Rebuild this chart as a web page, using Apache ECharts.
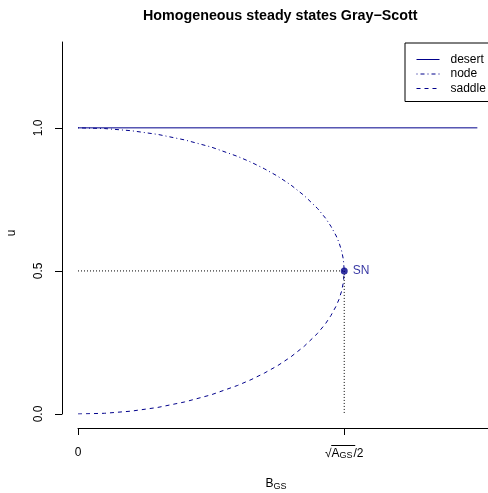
<!DOCTYPE html>
<html>
<head>
<meta charset="utf-8">
<script src="https://cdn.jsdelivr.net/npm/echarts@6/dist/echarts.min.js"></script>
<style>
  html, body { margin: 0; padding: 0; background: #fff; }
  #chart-container { width: 488px; height: 493px; }
</style>
</head>
<body>
<div id="chart-container"></div>
<script>
var dom = document.getElementById('chart-container');
var myChart = echarts.init(dom, null, { renderer: 'canvas' });

// B_GS in units of sqrt(A_GS)/2
const desert = [[0, 1], [1.5, 1]];
const nodeBranch = [
  [0, 1.0], [0.1, 0.9975], [0.2, 0.990], [0.3, 0.977], [0.4, 0.958],
  [0.5, 0.933], [0.6, 0.900], [0.65, 0.880], [0.7, 0.857], [0.75, 0.831],
  [0.8, 0.800], [0.85, 0.763], [0.9, 0.718], [0.93, 0.684], [0.95, 0.656],
  [0.97, 0.622], [0.98, 0.600], [0.99, 0.571], [0.997, 0.539], [1.0, 0.5]
];
const saddleBranch = [
  [0, 0.0], [0.1, 0.0025], [0.2, 0.010], [0.3, 0.023], [0.4, 0.042],
  [0.5, 0.067], [0.6, 0.100], [0.65, 0.120], [0.7, 0.143], [0.75, 0.169],
  [0.8, 0.200], [0.85, 0.237], [0.9, 0.282], [0.93, 0.316], [0.95, 0.344],
  [0.97, 0.378], [0.98, 0.400], [0.99, 0.429], [0.997, 0.461], [1.0, 0.5]
];
const snPoint = [[1, 0.5]];
const xTicks = [0, 1];
const yTicks = [0, 0.5, 1];

const BLUE = '#00008B';
const FONT = 'Liberation Sans, Arial, sans-serif';

var option = {
  animation: false,
  title: {
    text: 'Homogeneous steady states Gray\u2212Scott',
    left: 138,
    top: 4,
    textStyle: { fontFamily: FONT, fontSize: 14.3, fontWeight: 'bold', color: '#000' }
  },
  legend: {
    data: ['desert', 'node', 'saddle'],
    orient: 'vertical',
    left: 405,
    top: 43,
    padding: [10.5, 30, 7, 11],
    itemWidth: 23,
    itemHeight: 12,
    itemGap: 2.5,
    borderColor: '#000',
    borderWidth: 1,
    borderRadius: 0,
    itemStyle: { opacity: 0 },
    lineStyle: { width: 1, color: BLUE },
    textStyle: { fontFamily: FONT, fontSize: 12, color: '#000', padding: [0, 0, 0, 6] }
  },
  grid: { left: 78, right: 0, top: 42, bottom: 79, outerBoundsMode: 'none' },
  xAxis: {
    type: 'value',
    min: 0,
    max: 1.54,
    offset: 14,
    name: '{b|B}{s|GS}',
    nameLocation: 'middle',
    nameGap: 48,
    nameTextStyle: {
      padding: [0, 14, 0, 0],
      rich: {
        b: { fontFamily: FONT, fontSize: 12, color: '#000' },
        s: { fontFamily: FONT, fontSize: 9, color: '#000', verticalAlign: 'bottom', padding: [6, 0, 0, 0] }
      }
    },
    axisLine: { onZero: false, lineStyle: { color: '#000', width: 1 } },
    axisTick: { show: true, customValues: xTicks, length: 7, lineStyle: { color: '#000' } },
    axisLabel: {
      customValues: xTicks,
      margin: 19,
      formatter: function (v) {
        return v === 0 ? '{t|0}' : '{r|\u221A}{a|A}{s|GS}{t|/2}';
      },
      rich: {
        t: { fontFamily: FONT, fontSize: 12, color: '#000' },
        r: { fontFamily: FONT, fontSize: 12, color: '#000' },
        a: { fontFamily: FONT, fontSize: 12, color: '#000' },
        s: { fontFamily: FONT, fontSize: 9, color: '#000', padding: [4, 1, 0, 0] }
      }
    },
    splitLine: { show: false }
  },
  yAxis: {
    type: 'value',
    min: 0,
    max: 1.3,
    offset: 16,
    name: 'u',
    nameLocation: 'middle',
    nameRotate: 90,
    nameGap: 44,
    nameTextStyle: { fontFamily: FONT, fontSize: 12, color: '#000', padding: [0, 10, 0, 0] },
    axisLine: { show: true, onZero: false, lineStyle: { color: '#000', width: 1 } },
    axisTick: { show: true, customValues: yTicks, length: 7, lineStyle: { color: '#000' } },
    axisLabel: {
      customValues: yTicks,
      rotate: 90,
      margin: 17,
      fontFamily: FONT,
      fontSize: 12,
      color: '#000',
      formatter: function (v) { return v.toFixed(1); }
    },
    splitLine: { show: false }
  },
  series: [
    {
      name: 'desert', type: 'line', data: desert, symbol: 'none',
      lineStyle: { color: BLUE, width: 1, type: 'solid' }, itemStyle: { color: BLUE }
    },
    {
      name: 'node', type: 'line', data: nodeBranch, symbol: 'none',
      lineStyle: { color: BLUE, width: 1, type: [1, 3, 4, 3] }, itemStyle: { color: BLUE }
    },
    {
      name: 'saddle', type: 'line', data: saddleBranch, symbol: 'none',
      lineStyle: { color: BLUE, width: 1, type: [4, 4] }, itemStyle: { color: BLUE }
    },
    {
      name: 'guideH', type: 'line', data: [[0, 0.5], [1, 0.5]], symbol: 'none', silent: true,
      lineStyle: { color: '#000', width: 1, type: [1, 2] }
    },
    {
      name: 'guideV', type: 'line', data: [[1, 0.5], [1, 0]], symbol: 'none', silent: true,
      lineStyle: { color: '#000', width: 1, type: [1, 2] }
    },
    {
      name: 'SN', type: 'scatter', data: snPoint, symbolSize: 7, z: 5,
      itemStyle: { color: BLUE },
      label: {
        show: true, position: 'right', distance: 5, formatter: 'SN',
        fontFamily: FONT, fontSize: 12, color: BLUE
      }
    }
  ]
};

myChart.setOption(option);

// overline of the square root in the tick label
var px = myChart.convertToPixel({ xAxisIndex: 0 }, 1);
myChart.setOption({
  graphic: [{
    type: 'line',
    shape: { x1: px - 13, y1: 445.5, x2: px + 11, y2: 445.5 },
    style: { stroke: '#000', lineWidth: 1 }
  }]
});

window.addEventListener('resize', myChart.resize);
</script>
</body>
</html>
